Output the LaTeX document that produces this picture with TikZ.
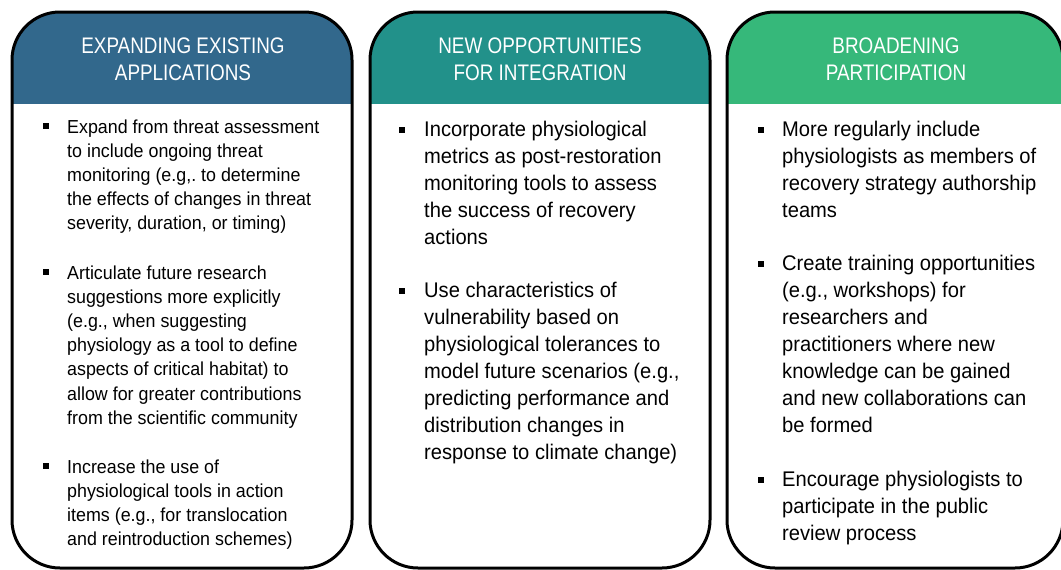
\documentclass[tikz,border=0pt]{standalone}
\usepackage{fontspec}
\setmainfont{Liberation Sans}
\newfontfamily\hdrfont[FakeStretch=0.84]{Liberation Sans}
\newfontfamily\bodyfont[FakeStretch=0.95]{Liberation Sans}
\definecolor{hblue}{RGB}{50,104,140}
\definecolor{hteal}{RGB}{34,145,138}
\definecolor{hgreen}{RGB}{54,184,122}
\tikzset{
  panelborder/.style={draw=black, line width=3pt, rounded corners=48pt},
  hdrtext/.style={anchor=base, inner sep=0pt, text=white},
  smalltext/.style={anchor=base west, inner sep=0pt, text=black},
  bul/.style={fill=black, minimum size=6pt, inner sep=0pt, draw=none},
}
\newcommand{\hdr}[1]{\parbox[t]{320pt}{\centering\hdrfont\fontsize{22.5}{27}\selectfont #1}}
\newcommand{\pa}[1]{\parbox[t]{300pt}{\raggedright\frenchspacing\bodyfont\fontsize{18.8}{24.2}\selectfont #1}}
\newcommand{\pb}[1]{\parbox[t]{300pt}{\raggedright\frenchspacing\bodyfont\fontsize{21.2}{27}\selectfont #1}}
\begin{document}
\begin{tikzpicture}[x=1pt,y=-1pt]
\useasboundingbox (0,0) rectangle (1061,570);
% panel 1
\begin{scope}
\clip[rounded corners=48pt] (12,12) rectangle (352,568);
\fill[hblue] (12,12) rectangle (352,104);
\end{scope}
\draw[panelborder] (12,12) rectangle (352,568);
% panel 2
\begin{scope}
\clip[rounded corners=48pt] (370,12) rectangle (710,568);
\fill[hteal] (370,12) rectangle (710,104);
\end{scope}
\draw[panelborder] (370,12) rectangle (710,568);
% panel 3
\begin{scope}
\clip[rounded corners=48pt] (727,12) rectangle (1063,568);
\fill[hgreen] (727,12) rectangle (1063,104);
\end{scope}
\draw[panelborder] (727,12) rectangle (1063,568);

% headers
\node[hdrtext] (h1) at (183,53) {\hdr{EXPANDING EXISTING\\APPLICATIONS}};
\node[hdrtext] (h2) at (540,53) {\hdr{NEW OPPORTUNITIES\\FOR INTEGRATION}};
\node[hdrtext] (h3) at (896,53) {\hdr{BROADENING\\PARTICIPATION}};

% panel 1 bullets
\node[bul] (q11) at (45.5,126) {};
\node[smalltext] (t11) at (67,133) {\pa{Expand from threat assessment\\to include ongoing threat\\monitoring (e.g,. to determine\\the effects of changes in threat\\severity, duration, or timing)}};
\node[bul] (q12) at (45.5,272) {};
\node[smalltext] (t12) at (67,279) {\pa{Articulate future research\\suggestions more explicitly\\(e.g., when suggesting\\physiology as a tool to define\\aspects of critical habitat) to\\allow for greater contributions\\from the scientific community}};
\node[bul] (q13) at (45.5,466) {};
\node[smalltext] (t13) at (67,473) {\pa{Increase the use of\\physiological tools in action\\items (e.g., for translocation\\and reintroduction schemes)}};

% panel 2 bullets
\node[bul] (q21) at (402,130) {};
\node[smalltext] (t21) at (424,136) {\pb{Incorporate physiological\\metrics as post-restoration\\monitoring tools to assess\\the success of recovery\\actions}};
\node[bul] (q22) at (402,291) {};
\node[smalltext] (t22) at (424,297) {\pb{Use characteristics of\\vulnerability based on\\physiological tolerances to\\model future scenarios (e.g.,\\predicting performance and\\distribution changes in\\response to climate change)}};

% panel 3 bullets
\node[bul] (q31) at (761,130) {};
\node[smalltext] (t31) at (782,136) {\pb{More regularly include\\physiologists as members of\\recovery strategy authorship\\teams}};
\node[bul] (q32) at (761,264) {};
\node[smalltext] (t32) at (782,270) {\pb{Create training opportunities\\(e.g., workshops) for\\researchers and\\practitioners where new\\knowledge can be gained\\and new collaborations can\\be formed}};
\node[bul] (q33) at (761,480) {};
\node[smalltext] (t33) at (782,486) {\pb{Encourage physiologists to\\participate in the public\\review process}};
\end{tikzpicture}
\end{document}
